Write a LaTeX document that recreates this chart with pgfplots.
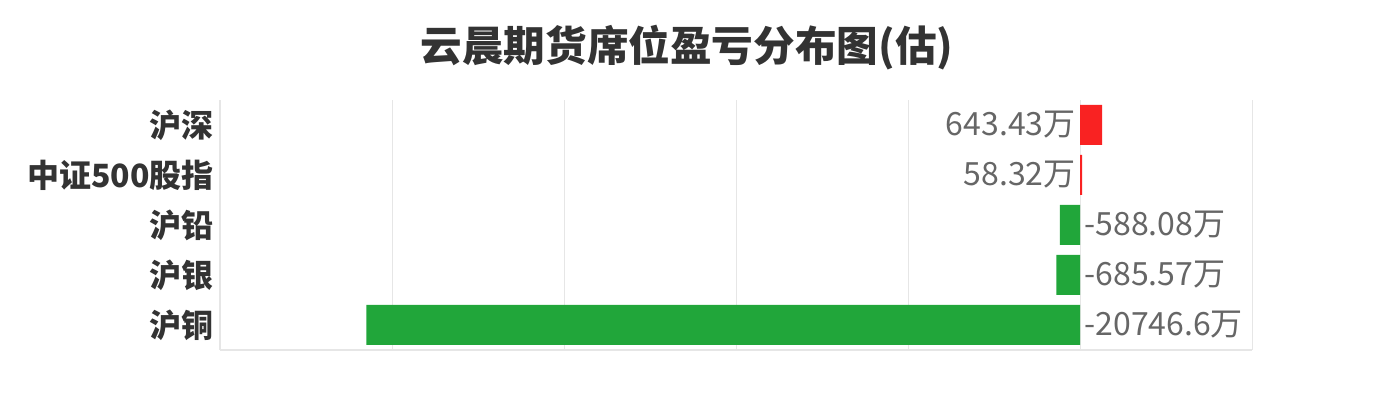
\documentclass[border=0pt]{standalone}
\usepackage{fontspec}
\setmainfont{Noto Sans CJK SC}
\usepackage{pgfplots}
\pgfplotsset{compat=1.18}

\definecolor{posred}{HTML}{F92222}
\definecolor{neggreen}{HTML}{21A63A}
\definecolor{txtdark}{HTML}{333333}
\definecolor{txtgray}{HTML}{666666}
\definecolor{gridgray}{HTML}{E6E6E6}

\begin{document}
\begin{tikzpicture}
\useasboundingbox (0,0) rectangle (695.5pt,205pt);
\node[font=\fontsize{20.8pt}{25pt}\selectfont\bfseries, text=txtdark] at (343.5pt,181pt) {云晨期货席位盈亏分布图(估)};
\begin{axis}[
  at={(110pt,30pt)}, anchor=south west,
  scale only axis, width=516pt, height=125pt,
  xmin=-25000, xmax=5000, ymin=-0.5, ymax=4.5,
  xtick={-25000,-20000,...,5000}, xticklabels={}, scaled x ticks=false,
  ytick={0,...,4}, yticklabels={沪铜,沪银,沪铅,中证500股指,沪深},
  major tick length=0pt,
  xmajorgrids, grid style={gridgray, line width=0.5pt},
  axis x line*=bottom, axis y line*=left,
  axis line style={gridgray, line width=0.6pt, -},
  yticklabel style={font=\fontsize{16pt}{19pt}\selectfont\bfseries, text=txtdark, inner sep=0pt, xshift=-3pt},
  bar width=0.8,
]
% bars
\addplot[xbar, bar shift=0pt, fill=posred, draw=none] coordinates {(643.43,4) (58.32,3)};
\addplot[xbar, bar shift=0pt, fill=neggreen, draw=none] coordinates {(-588.08,2) (-685.57,1) (-20746.6,0)};
% value labels at zero
\addplot[only marks, mark=none, point meta=explicit symbolic, nodes near coords,
  nodes near coords style={anchor=east, inner sep=0pt, xshift=-2pt, font=\fontsize{16pt}{19pt}\selectfont, text=txtgray}]
  coordinates {(0,4) [643.43万] (0,3) [58.32万]};
\addplot[only marks, mark=none, point meta=explicit symbolic, nodes near coords,
  nodes near coords style={anchor=west, inner sep=0pt, xshift=2pt, font=\fontsize{16pt}{19pt}\selectfont, text=txtgray}]
  coordinates {(0,2) [-588.08万] (0,1) [-685.57万] (0,0) [-20746.6万]};
\end{axis}
\end{tikzpicture}
\end{document}
